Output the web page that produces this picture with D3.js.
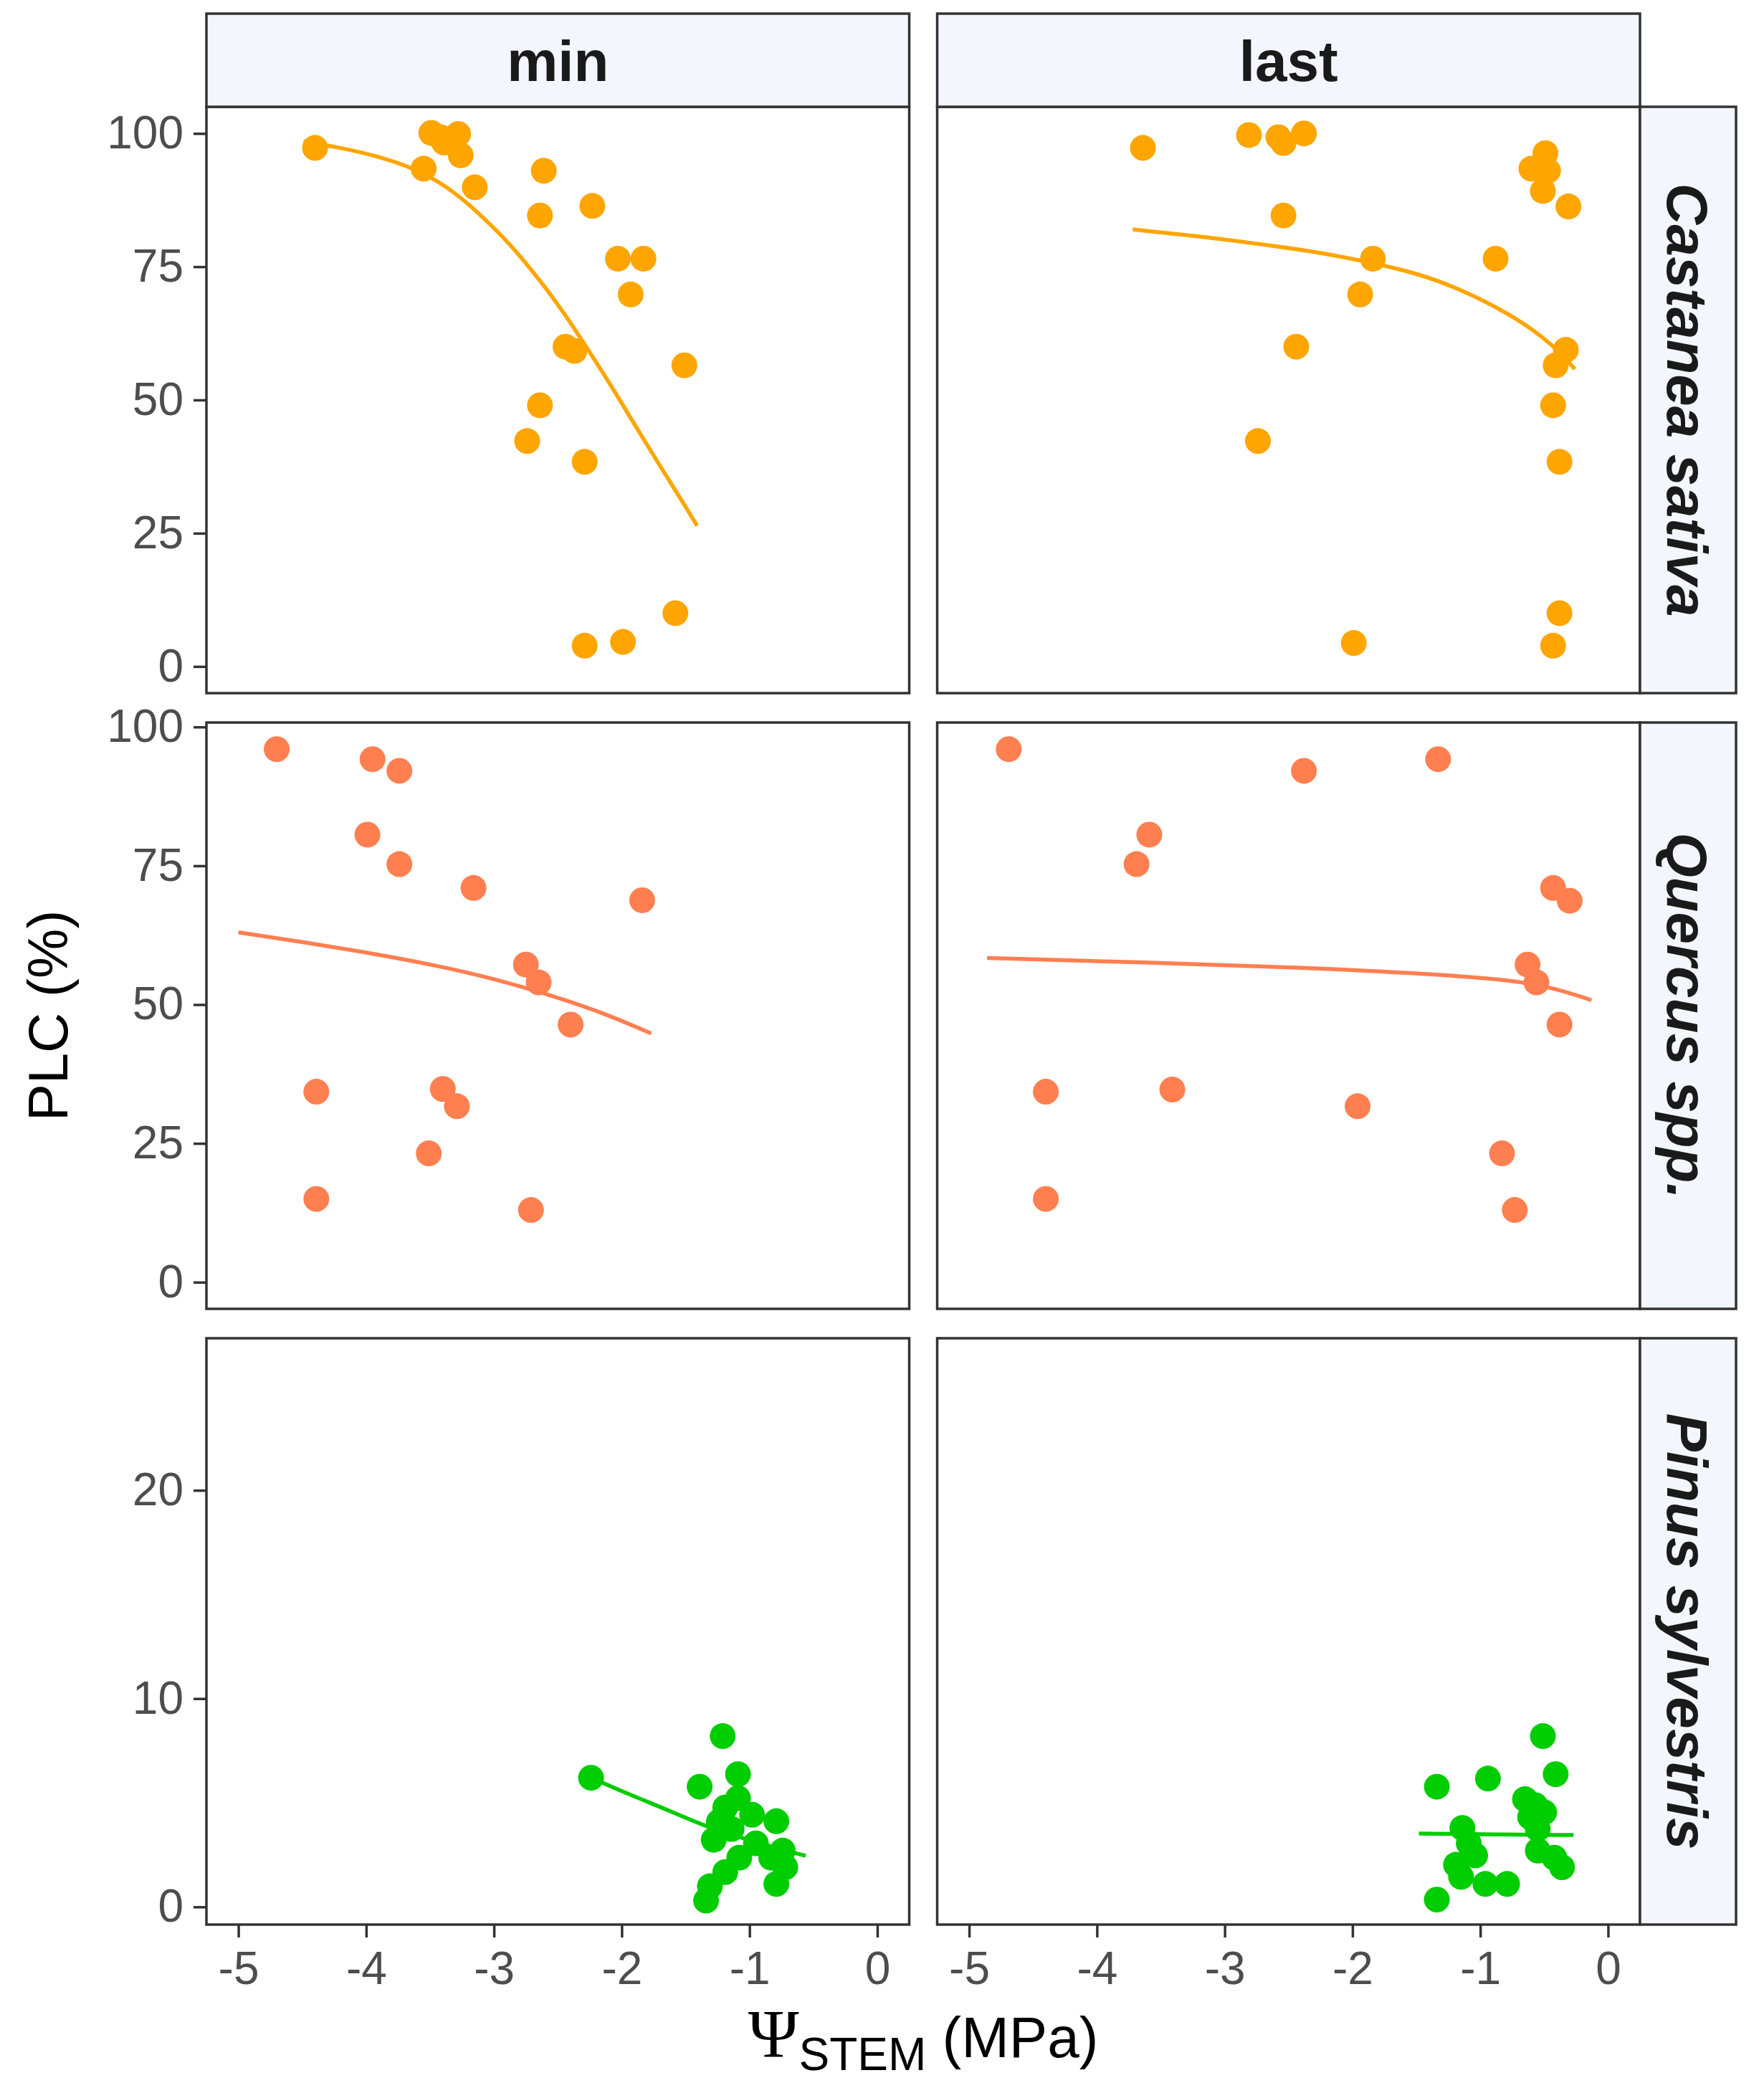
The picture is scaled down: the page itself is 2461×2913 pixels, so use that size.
<!DOCTYPE html>
<html><head><meta charset="utf-8">
<script src="https://cdn.jsdelivr.net/npm/d3@7"></script>
<style>body{margin:0;background:#fff}</style>
</head><body>
<svg id="chart" width="2461" height="2913"></svg>
<script>
// ---------------- data ----------------
const columnLabels = ["min", "last"];
const speciesLabels = ["Castanea sativa", "Quercus spp.", "Pinus sylvestris"];
const xTickValues = [-5, -4, -3, -2, -1, 0];
const yTickValuesCastanea = [0, 25, 50, 75, 100];
const yTickValuesQuercus = [0, 25, 50, 75, 100];
const yTickValuesPinus = [0, 10, 20];

// Castanea sativa – min
const castaneaMinPsi = [-4.40, -3.49, -3.42, -3.39, -3.28, -3.26, -3.55, -3.15, -2.61, -2.64, -2.23, -2.03, -1.83, -1.93, -2.44, -2.37, -1.51, -2.64, -2.74, -2.29, -1.58, -2.29, -1.99];
const castaneaMinPLC = [97.3, 100.1, 99.3, 98.3, 99.9, 95.9, 93.4, 89.9, 93.0, 84.6, 86.4, 76.5, 76.5, 69.8, 60.0, 59.2, 56.5, 49.0, 42.3, 38.4, 10.0, 3.9, 4.6];
const castaneaMinFitPsi = [-4.49, -4.21, -3.85, -3.54, -3.31, -3.13, -2.92, -2.78, -2.60, -2.45, -2.24, -2.06, -1.92, -1.70, -1.56, -1.41];
const castaneaMinFitPLC = [98.5, 97.4, 95.4, 92.6, 89.0, 85.3, 80.4, 76.6, 71.2, 66.3, 58.6, 51.8, 46.2, 37.6, 32.3, 26.4];

// Castanea sativa – last
const castaneaLastPsi = [-3.64, -2.81, -2.58, -2.54, -2.38, -0.49, -0.60, -0.47, -0.51, -0.31, -2.54, -1.84, -0.88, -1.94, -2.44, -0.33, -0.41, -0.43, -2.74, -0.38, -0.38, -1.99, -0.43];
const castaneaLastPLC = [97.3, 99.7, 99.3, 98.2, 100.0, 96.3, 93.4, 93.0, 89.2, 86.3, 84.6, 76.5, 76.5, 69.8, 60.0, 59.4, 56.5, 49.0, 42.3, 38.4, 10.0, 4.4, 3.9];
const castaneaLastFitPsi = [-3.72, -3.20, -2.81, -2.30, -1.84, -1.50, -1.16, -0.75, -0.50, -0.38, -0.26];
const castaneaLastFitPLC = [82.0, 80.7, 79.5, 77.9, 75.7, 73.8, 70.9, 65.9, 61.6, 59.0, 55.8];

// Quercus spp. – min
const quercusMinPsi = [-4.70, -3.95, -3.74, -3.99, -3.74, -3.16, -1.84, -2.75, -2.65, -2.40, -4.39, -3.40, -3.29, -3.51, -4.39, -2.71];
const quercusMinPLC = [96.0, 94.2, 92.1, 80.6, 75.3, 71.0, 68.8, 57.2, 54.0, 46.4, 34.3, 34.8, 31.7, 23.2, 15.0, 13.0];
const quercusMinFitPsi = [-5.00, -4.50, -4.00, -3.50, -3.00, -2.50, -2.10, -1.77];
const quercusMinFitPLC = [63.0, 61.3, 59.4, 57.3, 54.7, 51.3, 48.1, 44.8];

// Quercus spp. – last
const quercusLastPsi = [-4.69, -2.38, -1.33, -3.59, -3.69, -0.43, -0.30, -0.63, -0.56, -0.38, -4.40, -3.41, -1.96, -0.83, -4.40, -0.73];
const quercusLastPLC = [96.0, 92.1, 94.2, 80.6, 75.3, 71.0, 68.7, 57.2, 54.0, 46.4, 34.3, 34.7, 31.7, 23.2, 15.0, 13.0];
const quercusLastFitPsi = [-4.86, -3.63, -2.40, -1.37, -0.75, -0.42, -0.13];
const quercusLastFitPLC = [58.4, 57.6, 56.7, 55.5, 54.4, 53.0, 50.8];

// Pinus sylvestris – min
const pinusMinPsi = [-2.24, -1.21, -1.09, -1.39, -1.09, -1.19, -0.98, -0.79, -1.24, -1.14, -1.28, -0.95, -0.74, -1.08, -0.83, -0.72, -1.19, -0.79, -1.31, -1.34];
const pinusMinPLC = [6.2, 8.2, 6.37, 5.77, 5.22, 4.77, 4.42, 4.11, 4.08, 3.74, 3.22, 3.05, 2.70, 2.36, 2.36, 1.90, 1.67, 1.10, 0.99, 0.30];
const pinusMinFitPsi = [-2.24, -2.00, -1.80, -1.64, -1.33, -1.00, -0.75, -0.56];
const pinusMinFitPLC = [6.2, 5.55, 5.05, 4.65, 3.82, 3.20, 2.75, 2.45];

// Pinus sylvestris – last
const pinusLastPsi = [-0.51, -0.41, -1.34, -0.94, -0.65, -0.57, -0.50, -0.61, -0.55, -1.14, -1.09, -1.04, -0.55, -0.42, -0.36, -1.19, -1.15, -0.96, -0.79, -1.34];
const pinusLastPLC = [8.2, 6.37, 5.77, 6.16, 5.17, 4.88, 4.54, 4.31, 3.74, 3.79, 3.05, 2.47, 2.70, 2.36, 1.90, 2.02, 1.44, 1.10, 1.10, 0.35];
const pinusLastFitPsi = [-1.48, -0.90, -0.27];
const pinusLastFitPLC = [3.52, 3.48, 3.45];

// ---------------- styling / layout ----------------
const speciesColors = ["#FFA500", "#FF7F50", "#00CD00"];
const xDomain = [-5.25, 0.25];
const yDomains = [[-5, 105], [-4.8, 100.8], [-0.85, 27.3]];
const yTickSets = [yTickValuesCastanea, yTickValuesQuercus, yTickValuesPinus];

const colLeft = [288, 1307.5];
const panelW = 980.5;
const rowTop = [149, 1008, 1867];
const panelH = 818;
const stripTopY = 19, stripTopH = 130;
const stripRightX = 2288, stripRightW = 134;

const FONT = "'Liberation Sans', Arial, Helvetica, sans-serif";
const BORDER = "#333333";

const panels = [
  {row: 0, col: 0, psi: castaneaMinPsi, plc: castaneaMinPLC, fx: castaneaMinFitPsi, fy: castaneaMinFitPLC},
  {row: 0, col: 1, psi: castaneaLastPsi, plc: castaneaLastPLC, fx: castaneaLastFitPsi, fy: castaneaLastFitPLC},
  {row: 1, col: 0, psi: quercusMinPsi, plc: quercusMinPLC, fx: quercusMinFitPsi, fy: quercusMinFitPLC},
  {row: 1, col: 1, psi: quercusLastPsi, plc: quercusLastPLC, fx: quercusLastFitPsi, fy: quercusLastFitPLC},
  {row: 2, col: 0, psi: pinusMinPsi, plc: pinusMinPLC, fx: pinusMinFitPsi, fy: pinusMinFitPLC},
  {row: 2, col: 1, psi: pinusLastPsi, plc: pinusLastPLC, fx: pinusLastFitPsi, fy: pinusLastFitPLC}
];

const svg = d3.select("#chart");
svg.append("rect").attr("width", 2461).attr("height", 2913).attr("fill", "#fff");

const xScales = colLeft.map(l => d3.scaleLinear().domain(xDomain).range([l, l + panelW]));
const yScales = rowTop.map((t, i) => d3.scaleLinear().domain(yDomains[i]).range([t + panelH, t]));

panels.forEach(p => {
  const x = xScales[p.col], y = yScales[p.row];
  const g = svg.append("g");
  const clipId = `clip-${p.row}-${p.col}`;
  svg.append("clipPath").attr("id", clipId).append("rect")
    .attr("x", colLeft[p.col]).attr("y", rowTop[p.row]).attr("width", panelW).attr("height", panelH);
  g.append("rect").attr("x", colLeft[p.col]).attr("y", rowTop[p.row])
    .attr("width", panelW).attr("height", panelH).attr("fill", "#fff");
  const inner = g.append("g").attr("clip-path", `url(#${clipId})`);
  inner.selectAll("circle").data(p.psi.map((v, i) => [v, p.plc[i]])).join("circle")
    .attr("cx", d => x(d[0])).attr("cy", d => y(d[1])).attr("r", 18)
    .attr("fill", speciesColors[p.row]);
  const line = d3.line().x(d => x(d[0])).y(d => y(d[1])).curve(d3.curveBasis);
  inner.append("path").datum(p.fx.map((v, i) => [v, p.fy[i]]))
    .attr("d", line).attr("fill", "none").attr("stroke", speciesColors[p.row])
    .attr("stroke-width", 5.5);
  g.append("rect").attr("x", colLeft[p.col]).attr("y", rowTop[p.row])
    .attr("width", panelW).attr("height", panelH).attr("fill", "none")
    .attr("stroke", BORDER).attr("stroke-width", 3.5);
});

function styleAxis(sel) {
  sel.select(".domain").remove();
  sel.selectAll(".tick line").attr("stroke", BORDER).attr("stroke-width", 3.5);
  sel.selectAll(".tick text").attr("fill", "#4D4D4D").style("font-family", FONT).style("font-size", "64px");
}

// y axes (left column only)
yScales.forEach((y, i) => {
  svg.append("g").attr("transform", `translate(${colLeft[0]},0)`)
    .call(d3.axisLeft(y).tickValues(yTickSets[i]).tickSize(18).tickPadding(14).tickFormat(d => String(d)))
    .call(styleAxis);
});
// x axes (bottom row only)
xScales.forEach(x => {
  svg.append("g").attr("transform", `translate(0,${rowTop[2] + panelH})`)
    .call(d3.axisBottom(x).tickValues(xTickValues).tickSize(18).tickPadding(20).tickFormat(d => String(d)))
    .call(styleAxis);
});

// top strips
columnLabels.forEach((lab, c) => {
  svg.append("rect").attr("x", colLeft[c]).attr("y", stripTopY).attr("width", panelW).attr("height", stripTopH)
    .attr("fill", "#F3F7FD").attr("stroke", BORDER).attr("stroke-width", 3.5);
  svg.append("text").attr("x", colLeft[c] + panelW / 2).attr("y", stripTopY + stripTopH / 2)
    .attr("dy", "0.36em").attr("text-anchor", "middle")
    .style("font-family", FONT).style("font-size", "80px").style("font-weight", "bold")
    .attr("fill", "#1A1A1A").text(lab);
});
// right strips
speciesLabels.forEach((lab, r) => {
  svg.append("rect").attr("x", stripRightX).attr("y", rowTop[r]).attr("width", stripRightW).attr("height", panelH)
    .attr("fill", "#F3F7FD").attr("stroke", BORDER).attr("stroke-width", 3.5);
  const cx = stripRightX + stripRightW / 2, cy = rowTop[r] + panelH / 2;
  svg.append("text").attr("transform", `translate(${cx},${cy}) rotate(90)`)
    .attr("dy", "0.36em").attr("text-anchor", "middle")
    .style("font-family", FONT).style("font-size", "80px").style("font-weight", "bold").style("font-style", "italic")
    .attr("fill", "#1A1A1A").text(lab);
});

// axis titles
svg.append("text").attr("transform", `translate(66,${(rowTop[0] + rowTop[2] + panelH) / 2}) rotate(-90)`)
  .attr("dy", "0.36em").attr("text-anchor", "middle")
  .style("font-family", FONT).style("font-size", "78px").attr("fill", "#000").text("PLC (%)");

const xt = svg.append("text").attr("x", (colLeft[0] + colLeft[1] + panelW) / 2).attr("y", 2870)
  .attr("text-anchor", "middle").attr("fill", "#000").style("font-family", FONT).style("font-size", "80px");
xt.append("tspan").style("font-family", "'Liberation Serif', 'Times New Roman', serif").style("font-size", "96px").text("Ψ");
xt.append("tspan").attr("dy", 18).style("font-size", "64px").text("STEM");
xt.append("tspan").attr("dy", -18).text(" (MPa)");
</script>
</body></html>
